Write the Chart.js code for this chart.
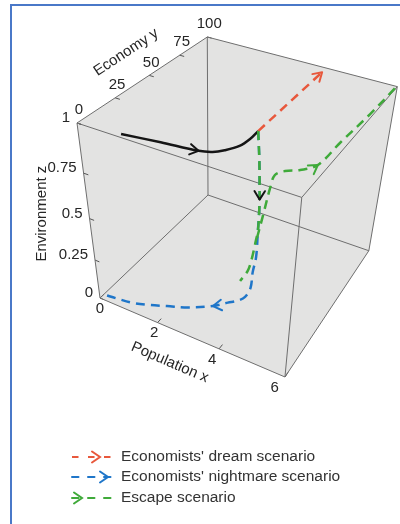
<!DOCTYPE html>
<html>
<head>
<meta charset="utf-8">
<script src="https://cdn.jsdelivr.net/npm/chart.js@4.4.1/dist/chart.umd.min.js"></script>
<style>
  html, body { margin: 0; padding: 0; background: #fff; }
  #wrap { position: relative; width: 400px; height: 524px; overflow: hidden; }
  #frame { position: absolute; left: 10px; top: 4px; width: 420px; height: 560px;
           border-left: 2px solid #4a78c8; border-top: 2px solid #4a78c8; pointer-events: none; }
</style>
</head>
<body>
<div id="wrap">
  <canvas id="cube"></canvas>
  <div id="frame"></div>
</div>
<script>
//==================================================== Data ====================

// axis ranges and ticks (population x, economy y, environment z)
var xRange = [0, 6];
var yRange = [0, 100];
var zRange = [0, 1];
var xTicks = [0, 2, 4, 6];
var yTicks = [0, 25, 50, 75, 100];
var zTicks = [0, 0.25, 0.5, 0.75, 1];
var zTickLabels = ['0', '0.25', '0.5', '0.75', '1'];

// history up to today (solid black)
var historyX = [1.2, 2.2, 3.15, 3.45, 3.65, 3.85, 3.91, 3.9];
var historyY = [2.2, 5.1, 7.4, 9.5, 13, 18.7, 25.4, 32.5];
var historyZ = [1, 1, 1, 1, 1, 1, 1, 1];

// economists' dream scenario
var dreamX = [3.9, 3.9];
var dreamY = [32.5, 95];
var dreamZ = [1, 1];

// economists' nightmare scenario
var nightmareX = [3.9, 3.89, 3.89, 3.9, 3.9, 3.92, 3.95, 3.88, 3.85, 3.7, 3.5, 3.3, 3.0, 2.4, 1.86, 1.35, 0.94, 0.45, 0.05];
var nightmareY = [32.5, 35, 36.5, 36.8, 37, 36, 34.5, 34, 33.5, 33, 31.5, 28, 22.4, 15.5, 11.4, 7.5, 5.1, 3.8, 3];
var nightmareZ = [1, 0.85, 0.7, 0.62, 0.55, 0.45, 0.3, 0.2, 0.1, 0.03, 0, 0, 0, 0, 0, 0, 0, 0, 0];

// escape scenario: the fall ...
var escapeDownX = [3.9, 3.89, 3.89, 3.9, 3.9, 3.92, 3.91, 3.87, 3.79, 3.6];
var escapeDownY = [32.5, 35, 36.5, 36.8, 37, 36, 34.2, 33, 31.8, 30.5];
var escapeDownZ = [1, 0.85, 0.7, 0.62, 0.55, 0.45, 0.38, 0.3, 0.22, 0.15];
// ... and the way back up
var escapeUpX = [3.96, 4.06, 4.18, 4.38, 4.7, 5.1, 5.44, 5.69, 5.86, 5.98];
var escapeUpY = [34.1, 35.7, 37, 33.9, 32.1, 31.9, 36.2, 47.4, 73.1, 99];
var escapeUpZ = [0.42, 0.55, 0.7, 0.8, 0.85, 0.88, 0.9, 0.96, 0.98, 1];

var legendItems = [
    { label: "Economists' dream scenario", color: '#e8583c', arrowAt: 100 },
    { label: "Economists' nightmare scenario", color: '#1f76c9', arrowAt: 108 },
    { label: 'Escape scenario', color: '#3faa3a', arrowAt: 82 }
];

//==================================================== Projection ==============

// perspective camera (rows for screen x, screen y and depth, on unit cube coords)
var camX = [100, 157.6, 149.6, -36.1];
var camY = [298, 42.8, -64, -195.9];
var camW = [1, -0.096, 0.2, -0.17];

function project(x, y, z) {
    var u = (x - xRange[0]) / (xRange[1] - xRange[0]);
    var v = (y - yRange[0]) / (yRange[1] - yRange[0]);
    var w = (z - zRange[0]) / (zRange[1] - zRange[0]);
    var d = camW[0] + camW[1] * u + camW[2] * v + camW[3] * w;
    return {
        x: (camX[0] + camX[1] * u + camX[2] * v + camX[3] * w) / d,
        y: (camY[0] + camY[1] * u + camY[2] * v + camY[3] * w) / d
    };
}

function path(xs, ys, zs) {
    return xs.map(function(x, i) { return project(x, ys[i], zs[i]); });
}

function corner(c) {
    return project(xRange[c[0]], yRange[c[1]], zRange[c[2]]);
}

// cube edges, as corner index triples
var edgeList = [
    [[0,0,1],[0,1,1]], [[0,1,1],[1,1,1]], [[1,1,1],[1,0,1]], [[1,0,1],[0,0,1]],
    [[0,0,0],[0,1,0]], [[0,1,0],[1,1,0]], [[1,1,0],[1,0,0]], [[1,0,0],[0,0,0]],
    [[0,0,0],[0,0,1]], [[0,1,0],[0,1,1]], [[1,1,0],[1,1,1]], [[1,0,0],[1,0,1]]
];
var edgePts = [];
edgeList.forEach(function(e) {
    edgePts.push(corner(e[0]), corner(e[1]), {x: null, y: null});
});

var hullPts = [[0,0,1],[0,1,1],[1,1,1],[1,1,0],[1,0,0],[0,0,0],[0,0,1]].map(corner);

var tickPts = [];
xTicks.forEach(function(t) { tickPts.push(project(t, 0, 0), project(t, 3, 0), {x: null, y: null}); });
yTicks.forEach(function(t) { tickPts.push(project(0, t, 1), project(0.15, t, 1), {x: null, y: null}); });
zTicks.forEach(function(t) { tickPts.push(project(0, 0, t), project(0.15, 0, t), {x: null, y: null}); });

//==================================================== Plugins =================

var FONT = '"Liberation Sans", Arial, sans-serif';
var TEXT = '#262626';

var arrowPlugin = {
    id: 'arrows',
    afterDatasetsDraw: function(chart) {
        var ctx = chart.ctx;
        chart.data.datasets.forEach(function(ds, i) {
            if (!ds.arrows) return;
            var pts = chart.getDatasetMeta(i).data;
            ds.arrows.forEach(function(a) {
                var tip = pts[a.at];
                var prev = pts[Math.max(a.at - 1, 0)];
                var next = pts[Math.min(a.at + 1, pts.length - 1)];
                var ang = Math.atan2(next.y - prev.y, next.x - prev.x) + Math.PI;
                var len = 10, spread = 0.55;
                ctx.save();
                ctx.strokeStyle = a.color || ds.borderColor;
                ctx.lineWidth = 2;
                ctx.lineCap = 'round';
                ctx.lineJoin = 'round';
                ctx.beginPath();
                ctx.moveTo(tip.x + len * Math.cos(ang - spread), tip.y + len * Math.sin(ang - spread));
                ctx.lineTo(tip.x, tip.y);
                ctx.lineTo(tip.x + len * Math.cos(ang + spread), tip.y + len * Math.sin(ang + spread));
                ctx.stroke();
                ctx.restore();
            });
        });
    }
};

var axisTextPlugin = {
    id: 'axisText',
    afterDatasetsDraw: function(chart) {
        var ctx = chart.ctx;
        var sx = chart.scales.x, sy = chart.scales.y;
        function px(p) { return { x: sx.getPixelForValue(p.x), y: sy.getPixelForValue(p.y) }; }

        ctx.save();
        ctx.fillStyle = TEXT;
        ctx.font = '15px ' + FONT;
        ctx.textBaseline = 'middle';

        ctx.textAlign = 'center';
        xTicks.forEach(function(t) {
            var p = px(project(t, 0, 0));
            ctx.fillText(String(t), p.x - 1.7 * t, p.y + 10.5);
        });
        yTicks.forEach(function(t) {
            var p = px(project(0, t, 1));
            ctx.fillText(String(t), p.x + 2, p.y - 13);
        });
        ctx.textAlign = 'right';
        zTicks.forEach(function(t, i) {
            var p = px(project(0, 0, t));
            ctx.fillText(zTickLabels[i], p.x - 7, p.y - 5);
        });

        // axis titles
        ctx.textAlign = 'center';
        function title(text, anchor, dx, dy, angle) {
            ctx.save();
            ctx.translate(anchor.x + dx, anchor.y + dy);
            ctx.rotate(angle);
            ctx.fillText(text, 0, 0);
            ctx.restore();
        }
        var a = px(project(0, 0, 1)), b = px(project(0, 100, 1));
        title('Economy y', px(project(0, 50, 1)), -23, -23, Math.atan2(b.y - a.y, b.x - a.x));
        var e = px(project(0, 0, 0)), h = px(project(6, 0, 0));
        title('Population x', px(project(3, 0, 0)), -18, 27, Math.atan2(h.y - e.y, h.x - e.x));
        title('Environment z', px(project(0, 0, 0.5)), -48, -5, -Math.PI / 2);
        ctx.restore();
    }
};

var legendPlugin = {
    id: 'scenarioLegend',
    afterDraw: function(chart) {
        var ctx = chart.ctx;
        var rows = [457, 477, 498];
        ctx.save();
        legendItems.forEach(function(item, i) {
            var y = rows[i];
            ctx.strokeStyle = item.color;
            ctx.lineWidth = 2;
            ctx.setLineDash([6.5, 9.5]);
            ctx.beginPath();
            ctx.moveTo(72, y);
            ctx.lineTo(111, y);
            ctx.stroke();
            ctx.setLineDash([]);
            ctx.lineCap = 'round';
            ctx.beginPath();
            ctx.moveTo(item.arrowAt - 8, y - 5.5);
            ctx.lineTo(item.arrowAt, y);
            ctx.lineTo(item.arrowAt - 8, y + 5.5);
            ctx.stroke();
            ctx.fillStyle = '#333';
            ctx.font = '15.5px ' + FONT;
            ctx.textAlign = 'left';
            ctx.textBaseline = 'middle';
            ctx.fillText(item.label, 121, y);
        });
        ctx.restore();
    }
};

//==================================================== Chart ===================

var dashed = [9, 6];
var chrt = document.getElementById('cube').getContext('2d');
var config = {
    type: 'scatter',
    data: {
        datasets: [{
            label: 'faces',
            data: hullPts,
            showLine: true,
            fill: 'shape',
            backgroundColor: '#e3e3e2',
            borderWidth: 0,
            order: 9
        }, {
            label: 'edges',
            data: edgePts,
            showLine: true,
            borderColor: '#6e6e6e',
            borderWidth: 1,
            order: 8
        }, {
            label: 'ticks',
            data: tickPts,
            showLine: true,
            borderColor: '#555',
            borderWidth: 1,
            order: 8
        }, {
            label: "Economists' nightmare scenario",
            data: path(nightmareX, nightmareY, nightmareZ),
            showLine: true,
            borderColor: legendItems[1].color,
            borderWidth: 2.5,
            borderDash: dashed,
            tension: 0.35,
            arrows: [{ at: 12 }],
            order: 4
        }, {
            label: "Economists' dream scenario",
            data: path(dreamX, dreamY, dreamZ),
            showLine: true,
            borderColor: legendItems[0].color,
            borderWidth: 2.5,
            borderDash: dashed,
            arrows: [{ at: 1 }],
            order: 3
        }, {
            label: 'History',
            data: path(historyX, historyY, historyZ),
            showLine: true,
            borderColor: '#151515',
            borderWidth: 2.5,
            tension: 0.35,
            arrows: [{ at: 2 }],
            order: 2
        }, {
            label: 'Escape scenario',
            data: path(escapeDownX, escapeDownY, escapeDownZ),
            showLine: true,
            borderColor: legendItems[2].color,
            borderWidth: 2.5,
            borderDash: dashed,
            tension: 0.35,
            arrows: [{ at: 3, color: '#151515' }],
            order: 1
        }, {
            label: 'Escape scenario (return)',
            data: path(escapeUpX, escapeUpY, escapeUpZ),
            showLine: true,
            borderColor: legendItems[2].color,
            borderWidth: 2.5,
            borderDash: dashed,
            tension: 0.35,
            arrows: [{ at: 6 }],
            order: 1
        }]
    },
    options: {
        responsive: true,
        maintainAspectRatio: false,
        animation: false,
        layout: { padding: 0 },
        elements: { point: { radius: 0, hoverRadius: 0 } },
        scales: {
            x: { type: 'linear', min: 0, max: 400, display: false },
            y: { type: 'linear', min: 0, max: 524, reverse: true, display: false }
        },
        plugins: {
            legend: { display: false },
            tooltip: { enabled: false }
        }
    },
    plugins: [arrowPlugin, axisTextPlugin, legendPlugin]
};

var cubeChart = new Chart(chrt, config);
</script>
</body>
</html>
